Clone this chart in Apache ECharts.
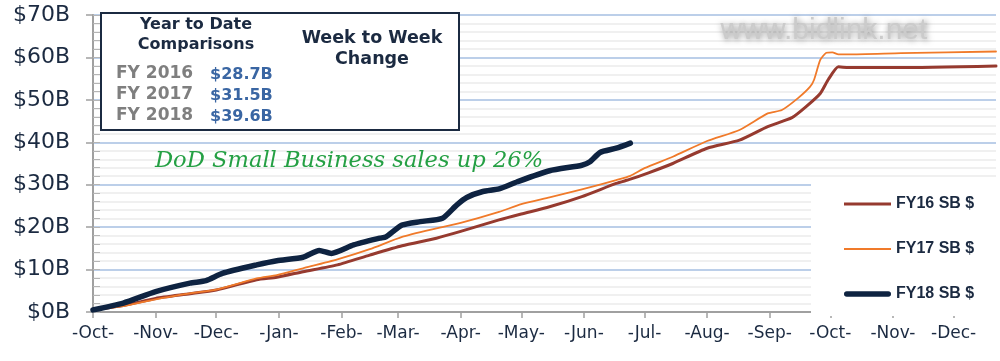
<!DOCTYPE html>
<html><head><meta charset="utf-8">
<script src="https://cdn.jsdelivr.net/npm/echarts@6/dist/echarts.min.js"></script>
<style>html,body{margin:0;padding:0;background:#fff}#c{width:1000px;height:361px}</style>
</head><body><div id="c"></div>
<script>
// x = day index counted from Oct 1 (start of fiscal year)
const monthStarts = [0,31,61,92,123,151,182,212,243,273,304,335,365,396,426];
const monthLabels = ['-Oct-','-Nov-','-Dec-','-Jan-','-Feb-','-Mar-','-Apr-','-May-','-Jun-','-Jul-','-Aug-','-Sep-','-Oct-','-Nov-','-Dec-'];

const fy16Days   = [0,15,31,48,61,81,91,104,121,137,153,170,182,201,212,226,242,259,266,275,287,304,320,334,346,353,360,364,369,374,399,447];
const fy16Values = [0.5,1.5,3.2,4.3,5.2,7.6,8.2,9.5,11.1,13.4,15.6,17.4,19.0,21.7,23.1,24.8,27.2,30.3,31.3,32.8,35.0,38.6,40.5,43.7,45.8,48.4,51.5,54.8,57.8,57.6,57.6,58.0];

const fy17Days   = [0,15,31,48,61,81,91,104,121,137,153,170,182,201,212,226,242,259,266,273,287,304,320,334,341,349,355,357,360,363,366,369,374,400,447];
const fy17Values = [0.5,1.4,3.0,4.4,5.3,7.9,8.7,10.3,12.4,14.8,17.7,19.7,21.0,23.6,25.4,27.0,28.9,31.1,32.1,33.9,36.6,40.3,42.9,46.8,47.6,50.4,53.1,54.8,59.4,61.1,61.2,60.7,60.7,61.0,61.4];

const fy18Days   = [0,15,31,48,56,64,81,91,104,112,118,129,142,145,153,162,173,180,185,193,201,210,226,242,246,251,259,266];
const fy18Values = [0.5,2.1,4.8,6.8,7.4,9.1,11.1,12.1,12.9,14.5,13.8,15.8,17.4,17.7,20.5,21.3,22.1,25.2,27.0,28.4,29.0,30.7,33.3,34.6,35.4,37.6,38.6,39.8];

const seriesNames = ['FY16 SB $','FY17 SB $','FY18 SB $'];
const ytdLabels = ['FY 2016','FY 2017','FY 2018'];
const ytdValues = ['$28.7B','$31.5B','$39.6B'];

const colors = ['#963A2F', '#F07A2A', '#0E2341'];
const widths = [3, 1.8, 5.5];

const pair = (d, v) => d.map((x, i) => [x, v[i]]);
const navy = '#1B2A41';
const sans = '"DejaVu Sans", Verdana, sans-serif';

const legendIcons = [
  'path://M0 0H47V3H0Z',
  'path://M0 0H47V1.8H0Z',
  'path://M2.75 0H44.25A2.75 2.75 0 0 1 44.25 5.5H2.75A2.75 2.75 0 0 1 2.75 0Z'
];

const chart = echarts.init(document.getElementById('c'), null, {renderer: 'canvas'});
const textEls = [];
ytdLabels.forEach((t, i) => {
  textEls.push({type:'text', z: 20, style:{text:t, x:116, y:74 + i*21, fill:'#7F7F7F', font:'bold 17px ' + sans, textVerticalAlign:'middle'}});
  textEls.push({type:'text', z: 20, style:{text:ytdValues[i], x:210, y:75 + i*21, fill:'#3A66A3', font:'bold 16px ' + sans, textVerticalAlign:'middle'}});
});

chart.setOption({
  animation: false,
  grid: {left: 93, right: 4, top: 15, bottom: 49},
  xAxis: {
    type: 'value', min: 0, max: 447,
    axisLine: {show: true, lineStyle: {color: '#A0A0A0', width: 2}},
    axisTick: {show: true, customValues: monthStarts, length: 6, lineStyle: {color: '#A0A0A0', width: 1.5}},
    axisLabel: {customValues: monthStarts, formatter: v => monthLabels[monthStarts.indexOf(v)], color: navy, fontFamily: sans, fontSize: 17, margin: 13},
    splitLine: {show: false}
  },
  yAxis: [{
    type: 'value', min: 0, max: 70, interval: 10,
    axisLine: {show: true, lineStyle: {color: '#A0A0A0', width: 2}},
    axisTick: {show: true, length: 7, lineStyle: {color: '#A0A0A0', width: 1.5}},
    axisLabel: {formatter: v => '$' + v + 'B', color: navy, fontFamily: sans, fontSize: 22, margin: 23},
    splitLine: {show: true, lineStyle: {color: '#A6BFE2', width: 1.5}},
    minorTick: {show: false},
    minorSplitLine: {show: true, lineStyle: {color: '#EBEBEB', width: 1.5}},
  }, {
    type: 'value', min: 0, max: 70, interval: 2, position: 'left',
    axisLine: {show: false},
    axisTick: {show: true, inside: true, length: 7, lineStyle: {color: '#B5B5B5', width: 1}},
    axisLabel: {show: false},
    splitLine: {show: false}
  }],
  legend: {
    data: seriesNames.map((n, i) => ({name: n, icon: legendIcons[i], itemStyle: {color: colors[i]}})),
    orient: 'vertical', left: 811, top: 179,
    padding: [17, 42, 14, 33], itemGap: 29, itemWidth: 47, itemHeight: 14,
    symbolKeepAspect: true,
    backgroundColor: '#fff',
    textStyle: {fontFamily: '"Liberation Sans", Arial, sans-serif', fontWeight: 'bold', fontSize: 16, color: navy}
  },
  series: seriesNames.map((n, i) => ({
    name: n, type: 'line', data: pair([fy16Days, fy17Days, fy18Days][i], [fy16Values, fy17Values, fy18Values][i]),
    showSymbol: false, symbol: 'none', smooth: 0.2,
    lineStyle: {color: colors[i], width: widths[i], cap: 'round', join: 'round'},
    itemStyle: {color: colors[i]}, z: 3 + i
  })),
  graphic: [
    {type: 'rect', z: 10, shape: {x: 101, y: 13, width: 358, height: 117}, style: {fill: '#fff', stroke: navy, lineWidth: 2}},
    {type:'text', z: 20, style:{text:'Year to Date', x:196, y:25, fill:navy, font:'bold 16px ' + sans, textAlign:'center', textVerticalAlign:'middle'}},
    {type:'text', z: 20, style:{text:'Comparisons', x:196, y:45, fill:navy, font:'bold 16px ' + sans, textAlign:'center', textVerticalAlign:'middle'}},
    {type:'text', z: 20, style:{text:'Week to Week', x:372, y:38, fill:navy, font:'bold 17.5px ' + sans, textAlign:'center', textVerticalAlign:'middle'}},
    {type:'text', z: 20, style:{text:'Change', x:372, y:59, fill:navy, font:'bold 17.5px ' + sans, textAlign:'center', textVerticalAlign:'middle'}},
    ...textEls,
    {type:'text', z: 20, style:{text:'DoD Small Business sales up 26%', x:155, y:161, fill:'#25A044', font:'italic 22.6px "DejaVu Serif", Georgia, serif', textVerticalAlign:'middle'}},
    {type:'text', z: 20, style:{text:'www.bidlink.net', x:824, y:31, fill:'#CBCBCB', font:'30px "Liberation Sans", Arial, sans-serif', textAlign:'center', textVerticalAlign:'middle', textShadowColor:'rgba(0,0,0,0.5)', textShadowBlur:6, textShadowOffsetX:1, textShadowOffsetY:1}}
  ]
});
</script>
</body></html>
